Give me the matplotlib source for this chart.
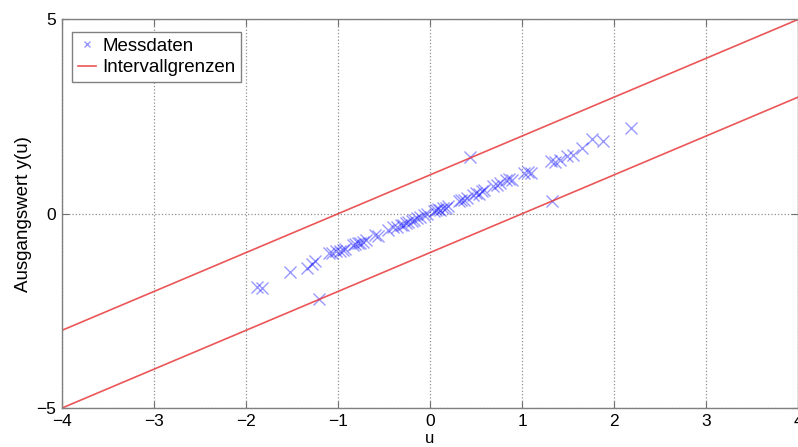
import numpy as np
import matplotlib
matplotlib.use("Agg")
import matplotlib.pyplot as plt

plt.rcParams['font.family'] = ['Liberation Sans', 'DejaVu Sans']

# Messpunkte (u, y(u))
u_mess = [-1.88, -1.83, -1.52, -1.34, -1.28, -1.25, -1.21, -1.10, -1.06, -1.02,
          -0.98, -0.95, -0.92, -0.84, -0.81, -0.78, -0.76, -0.73, -0.70, -0.60,
          -0.56, -0.46, -0.40, -0.36, -0.32, -0.29, -0.26, -0.24, -0.20, -0.17,
          -0.14, -0.11, -0.07, -0.03, 0.04, 0.07, 0.09, 0.11, 0.14, 0.17,
          0.20, 0.31, 0.34, 0.37, 0.40, 0.43, 0.47, 0.50, 0.53, 0.56,
          0.59, 0.69, 0.73, 0.76, 0.83, 0.86, 0.89, 1.02, 1.06, 1.10,
          1.31, 1.33, 1.36, 1.41, 1.49, 1.55, 1.65, 1.76, 1.88, 2.19]
y_mess = [-1.88, -1.92, -1.49, -1.40, -1.30, -1.22, -2.20, -1.02, -1.01, -0.97,
          -0.95, -0.92, -0.90, -0.80, -0.78, -0.76, -0.74, -0.72, -0.67, -0.55,
          -0.57, -0.43, -0.35, -0.33, -0.30, -0.28, -0.24, -0.20, -0.18, -0.15,
          -0.12, -0.08, -0.04, -0.01, 0.06, 0.09, 0.11, 0.10, 0.15, 0.16,
          0.19, 0.33, 0.36, 0.36, 0.41, 1.46, 0.49, 0.53, 0.52, 0.58,
          0.61, 0.72, 0.75, 0.78, 0.86, 0.90, 0.88, 1.04, 1.07, 1.05,
          1.35, 0.32, 1.33, 1.39, 1.48, 1.50, 1.69, 1.93, 1.86, 2.22]

# Intervallgrenzen y = u +/- 1
u_grenz = [-4, 4]
y_oben = [-3, 5]
y_unten = [-5, 3]

x_ticks = [-4, -3, -2, -1, 0, 1, 2, 3, 4]
y_ticks = [-5, 0, 5]

fig = plt.figure(figsize=(7.98, 4.47), dpi=100)
ax = fig.add_axes([0.0777, 0.0872, 0.9223, 0.8692])

ax.plot(u_mess, y_mess, 'x', color='blue', alpha=0.4, markersize=8,
        markeredgewidth=1.0, label='Messdaten')
ax.plot(u_grenz, y_oben, '-', color='#e8383a', alpha=0.85, linewidth=1.2,
        label='Intervallgrenzen')
ax.plot(u_grenz, y_unten, '-', color='#e8383a', alpha=0.85, linewidth=1.2)

ax.set_xlim(-4, 4)
ax.set_ylim(-5, 5)
ax.set_xticks(x_ticks)
ax.set_yticks(y_ticks)
ax.set_xticklabels([str(t).replace('-', '\u2212') for t in x_ticks])
ax.set_yticklabels([str(t).replace('-', '\u2212') for t in y_ticks])
ax.tick_params(direction='in', length=5, width=0.8, color='#707070',
               labelsize=12.5, top=True, right=True, pad=4)

ax.grid(True, linestyle=':', color='#909090', linewidth=0.9)
for s in ax.spines.values():
    s.set_color('#808080')
    s.set_linewidth(1.0)

ax.set_xlabel('u', fontsize=12, labelpad=2)
ax.set_ylabel('Ausgangswert y(u)', fontsize=13.5, labelpad=3)

leg = ax.legend(loc='upper left', bbox_to_anchor=(0.0136, 0.968),
                borderaxespad=0, fontsize=13.5, fancybox=False, framealpha=1,
                edgecolor='#808080', handlelength=1.0, handletextpad=0.3,
                borderpad=0.3, labelspacing=0.25, markerscale=0.6)
leg.get_frame().set_linewidth(1.0)

fig.savefig('out.png', dpi=100)
